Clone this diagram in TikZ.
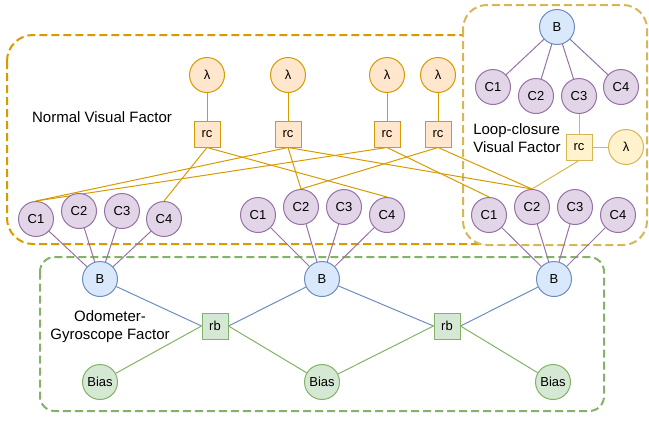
\documentclass[tikz,border=0pt]{standalone}
\usepackage{fontspec}
\setmainfont{Liberation Sans}
\usepackage{tikz}

\definecolor{orangeline}{HTML}{D79B00}
\definecolor{orangefill}{HTML}{FFE6CC}
\definecolor{goldline}{HTML}{D6B656}
\definecolor{goldfill}{HTML}{FFF2CC}
\definecolor{camline}{HTML}{9673A6}
\definecolor{camfill}{HTML}{E1D5E7}
\definecolor{bodyline}{HTML}{6C8EBF}
\definecolor{bodyfill}{HTML}{DAE8FC}
\definecolor{biasline}{HTML}{82B366}
\definecolor{biasfill}{HTML}{D5E8D4}

\pgfdeclarelayer{boxlayer}
\pgfdeclarelayer{edgelayer}
\pgfsetlayers{boxlayer,edgelayer,main}

\tikzset{
  varnode/.style={circle,minimum size=26.25pt,inner sep=0pt,line width=0.75pt,font=\fontsize{9.75}{11}\selectfont},
  facnode/.style={rectangle,minimum size=19.5pt,inner sep=0pt,line width=0.75pt,font=\fontsize{9.75}{11}\selectfont},
  cam/.style={varnode,draw=camline,fill=camfill},
  body/.style={varnode,draw=bodyline,fill=bodyfill},
  bias/.style={varnode,draw=biasline,fill=biasfill},
  lam/.style={varnode,draw=orangeline,fill=orangefill},
  lamloop/.style={varnode,draw=goldline,fill=goldfill},
  rcbox/.style={facnode,draw=orangeline,fill=orangefill},
  rcloop/.style={facnode,draw=goldline,fill=goldfill},
  rbbox/.style={facnode,draw=biasline,fill=biasfill},
  grouptext/.style={inner sep=0.75pt,font=\fontsize{11.25}{13.5}\selectfont},
  groupbox/.style={line width=1.5pt,dash pattern=on 6pt off 3pt},
  link/.style={line width=0.75pt}
}

\begin{document}
\begin{tikzpicture}[x=0.75pt,y=0.75pt,yscale=-1,xscale=1]
\useasboundingbox (0,0) rectangle (649,422);

%Rounded Rect
\begin{pgfonlayer}{boxlayer}
\draw [groupbox, orangeline, rounded corners=19.5pt] (7,35) rectangle (640,244);
\draw [groupbox, goldline, fill=white, rounded corners=18pt] (463,5) rectangle (647,245);
\draw [groupbox, biasline, rounded corners=11pt] (40,257) rectangle (604,411);
\end{pgfonlayer}

% Lambda nodes
\node [lam] (lam1) at (207,75) {λ};
\node [lam] (lam2) at (288,75) {λ};
\node [lam] (lam3) at (387,75) {λ};
\node [lam] (lam4) at (438,75) {λ};

% rc factors
\node [rcbox] (rc1) at (207,134) {rc};
\node [rcbox] (rc2) at (288,134) {rc};
\node [rcbox] (rc3) at (387,134) {rc};
\node [rcbox] (rc4) at (438,134) {rc};

% Cameras, first pose
\node [cam] (ca1) at (36,219) {C1};
\node [cam] (ca2) at (79,211) {C2};
\node [cam] (ca3) at (122,211) {C3};
\node [cam] (ca4) at (164,219) {C4};
% Cameras, second pose
\node [cam] (cb1) at (258,215) {C1};
\node [cam] (cb2) at (301,207) {C2};
\node [cam] (cb3) at (344,207) {C3};
\node [cam] (cb4) at (387,215) {C4};
% Cameras, third pose
\node [cam] (cc1) at (489,215) {C1};
\node [cam] (cc2) at (532,207) {C2};
\node [cam] (cc3) at (575,207) {C3};
\node [cam] (cc4) at (618,215) {C4};

% Bodies
\node [body] (ba) at (100,279) {B};
\node [body] (bb) at (322,279) {B};
\node [body] (bc) at (554,279) {B};

% rb factors
\node [rbbox] (rba) at (215,326) {rb};
\node [rbbox] (rbb) at (447,326) {rb};

% Biases
\node [bias] (biasa) at (100,382) {Bias};
\node [bias] (biasb) at (322,382) {Bias};
\node [bias] (biasc) at (553,382) {Bias};

% Loop-closure part
\node [body] (bl) at (557,27) {B};
\node [cam] (cl1) at (493,87) {C1};
\node [cam] (cl2) at (536,96) {C2};
\node [cam] (cl3) at (579,96) {C3};
\node [cam] (cl4) at (621,87) {C4};
\node [rcloop] (rcl) at (579,147) {rc};
\node [lamloop] (laml) at (626,147) {λ};

% Text Node
\node [grouptext] (nvf) at (102,117) {Normal Visual Factor};
% Text Node
\node [grouptext, anchor=west, align=left] (lcvf) at (472,138) {Loop-closure\\Visual Factor};
% Text Node
\node [grouptext, align=center] (ogf) at (110,327) {Odometer-\\Gyroscope Factor};

\begin{pgfonlayer}{edgelayer}
%Straight Lines
\draw [link, orangeline] (lam1) -- (rc1);
\draw [link, orangeline] (lam2) -- (rc2);
\draw [link, orangeline] (lam3) -- (rc3);
\draw [link, orangeline] (lam4) -- (rc4);
\draw [link, orangeline] (rc1.south) -- (ca4.north);
\draw [link, orangeline] (rc1.south) -- (cb4.north);
\draw [link, orangeline] (rc2.south) -- (ca1.north);
\draw [link, orangeline] (rc2.south) -- (cb2.north);
\draw [link, orangeline] (rc2.south) -- (cc2.north);
\draw [link, orangeline] (rc3.south) -- (ca1.north);
\draw [link, orangeline] (rc3.south) -- (cc1.north);
\draw [link, orangeline] (rc4.south) -- (cb2.north);
\draw [link, orangeline] (rc4.south) -- (cc2.north);
%Straight Lines
\draw [link, goldline] (cl3) -- (rcl);
\draw [link, goldline] (rcl) -- (laml);
\draw [link, goldline] (rcl.south) -- (cc2.north);
%Straight Lines
\draw [link, camline] (ca1) -- (ba);
\draw [link, camline] (ca2) -- (ba);
\draw [link, camline] (ca3) -- (ba);
\draw [link, camline] (ca4) -- (ba);
\draw [link, camline] (cb1) -- (bb);
\draw [link, camline] (cb2) -- (bb);
\draw [link, camline] (cb3) -- (bb);
\draw [link, camline] (cb4) -- (bb);
\draw [link, camline] (cc1) -- (bc);
\draw [link, camline] (cc2) -- (bc);
\draw [link, camline] (cc3) -- (bc);
\draw [link, camline] (cc4) -- (bc);
\draw [link, camline] (bl) -- (cl1);
\draw [link, camline] (bl) -- (cl2);
\draw [link, camline] (bl) -- (cl3);
\draw [link, camline] (bl) -- (cl4);
%Straight Lines
\draw [link, bodyline] (ba) -- (rba.west);
\draw [link, bodyline] (bb) -- (rba.east);
\draw [link, bodyline] (bb) -- (rbb.west);
\draw [link, bodyline] (bc) -- (rbb.east);
\draw [link, biasline] (biasa) -- (rba.west);
\draw [link, biasline] (biasb) -- (rba.east);
\draw [link, biasline] (biasb) -- (rbb.west);
\draw [link, biasline] (biasc) -- (rbb.east);
\end{pgfonlayer}

\end{tikzpicture}
\end{document}
